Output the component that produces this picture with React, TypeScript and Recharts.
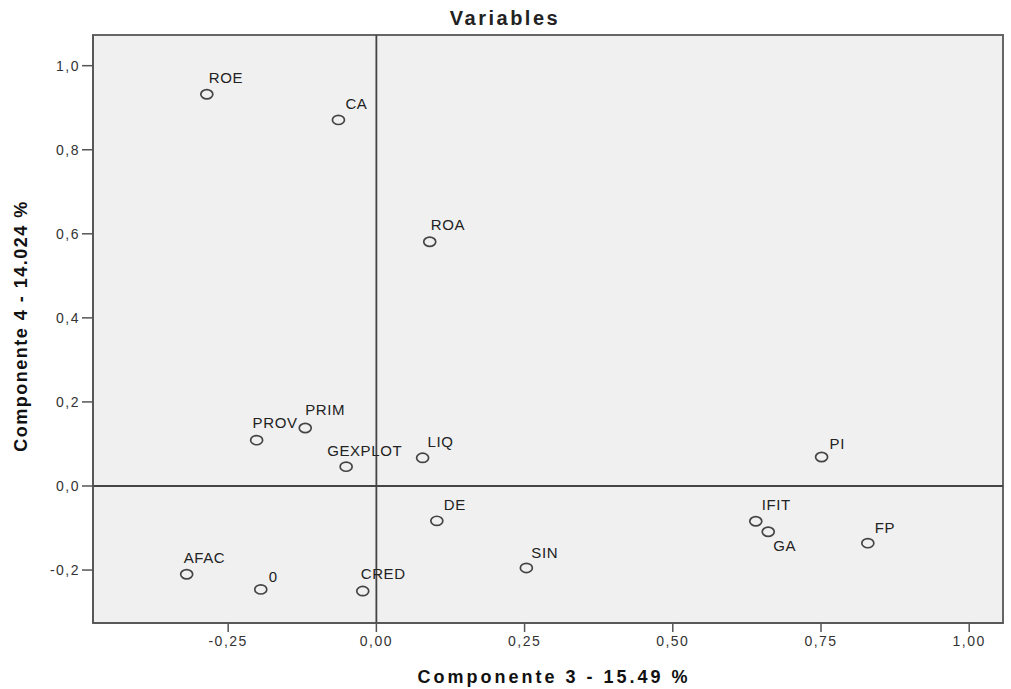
import {
  ScatterChart,
  Scatter,
  XAxis,
  YAxis,
  ReferenceLine,
  ReferenceArea,
} from "recharts";

// variable names and their loadings on component 3 / component 4
const NAMES = [
  "ROE", "CA", "ROA", "PROV", "PRIM", "GEXPLOT", "LIQ", "PI",
  "DE", "IFIT", "GA", "FP", "SIN", "AFAC", "0", "CRED",
];
const COMP3 = [
  -0.286, -0.064, 0.09, -0.202, -0.12, -0.051, 0.078, 0.751,
  0.102, 0.64, 0.661, 0.829, 0.253, -0.32, -0.195, -0.023,
];
const COMP4 = [
  0.932, 0.871, 0.581, 0.109, 0.138, 0.046, 0.067, 0.069,
  -0.083, -0.084, -0.109, -0.136, -0.195, -0.21, -0.246, -0.25,
];

const X_TICKS = [-0.25, 0, 0.25, 0.5, 0.75, 1];
const Y_TICKS = [-0.2, 0, 0.2, 0.4, 0.6, 0.8, 1.0];
const X_DOMAIN = [-0.478, 1.057];
const Y_DOMAIN = [-0.326, 1.073];

// label placement relative to the marker (text start, baseline)
const LABEL_OFFSETS: Record<string, [number, number]> = {
  ROE: [2, -11],
  CA: [7, -11],
  ROA: [1, -12],
  PROV: [-4, -12],
  PRIM: [0, -13],
  GEXPLOT: [-19, -11],
  LIQ: [5, -11],
  PI: [8, -8],
  DE: [7, -11],
  IFIT: [6, -11],
  GA: [5, 19],
  FP: [7, -10],
  SIN: [5, -10],
  AFAC: [-3, -11],
  "0": [8, -7],
  CRED: [-2, -12],
};

const points = NAMES.map((name, i) => ({ name, x: COMP3[i], y: COMP4[i] }));

const FONT = "'Liberation Sans', Arial, sans-serif";

const comma = (v: number, d: number) => v.toFixed(d).replace(".", ",");

const PointShape = (props: any) => {
  const { cx, cy, payload } = props;
  const [dx, dy] = LABEL_OFFSETS[payload.name] || [5, -10];
  return (
    <g>
      <ellipse
        cx={cx}
        cy={cy}
        rx={6}
        ry={4.6}
        fill="none"
        stroke="#444"
        strokeWidth={1.7}
      />
      <text
        x={cx + dx}
        y={cy + dy}
        fontFamily={FONT}
        fontSize={15}
        letterSpacing={0.6}
        fill="#222"
      >
        {payload.name}
      </text>
    </g>
  );
};

export default function App() {
  return (
    <div
      style={{
        position: "absolute",
        left: 0,
        top: 0,
        width: 1011,
        height: 689,
        background: "#fff",
      }}
    >
      <div
        style={{
          position: "absolute",
          left: 405,
          width: 200,
          top: 7,
          textAlign: "center",
          fontFamily: FONT,
          fontWeight: "bold",
          fontSize: 20,
          letterSpacing: 2.5,
          color: "#222",
        }}
      >
        Variables
      </div>
      <ScatterChart
        width={1011}
        height={689}
        margin={{ top: 35, right: 8, bottom: 0, left: 0 }}
      >
        <ReferenceArea
          x1={X_DOMAIN[0]}
          x2={X_DOMAIN[1]}
          y1={Y_DOMAIN[0]}
          y2={Y_DOMAIN[1]}
          fill="#F0F0F0"
          fillOpacity={1}
          stroke="#666"
          strokeWidth={2}
        />
        <XAxis
          type="number"
          dataKey="x"
          domain={X_DOMAIN}
          ticks={X_TICKS}
          allowDataOverflow
          height={66}
          tickSize={9}
          tickMargin={4}
          tickFormatter={(v: number) => comma(v, 2)}
          axisLine={{ stroke: "#555", strokeWidth: 1.5 }}
          tickLine={{ stroke: "#555", strokeWidth: 1.5 }}
          tick={{ fill: "#333", fontSize: 14, fontFamily: FONT, letterSpacing: 1.5 }}
          label={{
            value: "Componente 3 - 15.49 %",
            position: "insideBottom",
            offset: 6,
            dx: 6,
            style: {
              fontFamily: FONT,
              fontWeight: "bold",
              fontSize: 18,
              letterSpacing: 3,
              fill: "#111",
            },
          }}
        />
        <YAxis
          type="number"
          dataKey="y"
          domain={Y_DOMAIN}
          ticks={Y_TICKS}
          allowDataOverflow
          width={93}
          tickSize={11}
          tickMargin={2}
          tickFormatter={(v: number) => comma(v, 1)}
          axisLine={{ stroke: "#555", strokeWidth: 1.5 }}
          tickLine={{ stroke: "#555", strokeWidth: 1.5 }}
          tick={{ fill: "#333", fontSize: 14, fontFamily: FONT, letterSpacing: 1.5 }}
          label={{
            value: "Componente 4 - 14.024 %",
            angle: -90,
            position: "center",
            dx: -26,
            dy: -3,
            style: {
              fontFamily: FONT,
              fontWeight: "bold",
              fontSize: 18,
              letterSpacing: 1.5,
              fill: "#111",
              textAnchor: "middle",
            },
          }}
        />
        <ReferenceLine x={0} stroke="#444" strokeWidth={1.8} />
        <ReferenceLine y={0} stroke="#444" strokeWidth={1.8} />
        <Scatter
          data={points}
          shape={<PointShape />}
          isAnimationActive={false}
        />
      </ScatterChart>
    </div>
  );
}
